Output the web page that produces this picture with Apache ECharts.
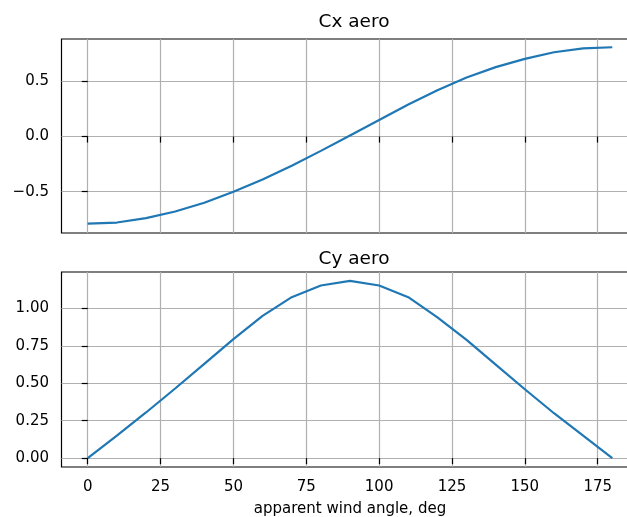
<!DOCTYPE html>
<html>
<head>
<meta charset="utf-8">
<script src="https://cdn.jsdelivr.net/npm/echarts@6/dist/echarts.min.js"></script>
<style>
    html, body { margin: 0; padding: 0; background: #fff; }
    #chart { width: 627px; height: 517px; }
</style>
</head>
<body>
<div id="chart"></div>
<script>
// apparent wind angle, deg
const angles = [0, 10, 20, 30, 40, 50, 60, 70, 80, 90, 100, 110, 120, 130, 140, 150, 160, 170, 180];
// Cx aero
const cxValues = [-0.79, -0.78, -0.74, -0.68, -0.60, -0.50, -0.39, -0.265, -0.13, 0.01, 0.15, 0.29, 0.42, 0.535, 0.63, 0.705, 0.765, 0.80, 0.81];
// Cy aero
const cyValues = [0, 0.15, 0.305, 0.465, 0.63, 0.795, 0.95, 1.075, 1.153, 1.184, 1.153, 1.075, 0.94, 0.79, 0.625, 0.46, 0.30, 0.15, 0];

const xTicks = [0, 25, 50, 75, 100, 125, 150, 175];
const cxTicks = [-0.5, 0, 0.5];
const cyTicks = [0, 0.25, 0.5, 0.75, 1.0];

const font = "DejaVu Sans";
const gridColor = "#b0b0b0";
const lineColor = "#1f77b4";

function pairs(xs, ys) {
    return xs.map(function (x, i) { return [x, ys[i]]; });
}

function minus(s) {
    return String(s).replace("-", "\u2212");
}

function xAxisOpt(gridIndex, showLabels) {
    return {
        type: "value",
        gridIndex: gridIndex,
        min: -9,
        max: 189,
        axisLine: { show: false },
        axisTick: {
            show: true, inside: false, length: 6,
            customValues: xTicks,
            lineStyle: { color: "#000", width: 1.2 }
        },
        axisLabel: {
            show: showLabels,
            customValues: xTicks,
            margin: 13,
            color: "#000",
            fontFamily: font,
            fontSize: 15
        },
        splitLine: { show: true, lineStyle: { color: gridColor, width: 1.2 } }
    };
}

function yAxisOpt(gridIndex, min, max, ticks, decimals) {
    return {
        type: "value",
        gridIndex: gridIndex,
        min: min,
        max: max,
        axisLine: { show: false },
        axisTick: {
            show: true, inside: false, length: 6,
            customValues: ticks,
            lineStyle: { color: "#000", width: 1.2 }
        },
        axisLabel: {
            customValues: ticks,
            margin: 12.5,
            color: "#000",
            fontFamily: font,
            fontSize: 15,
            formatter: function (v) { return minus(Number(v).toFixed(decimals)); }
        },
        splitLine: { show: true, lineStyle: { color: gridColor, width: 1.2 } }
    };
}

const myChart = echarts.init(document.getElementById("chart"), null, { renderer: "canvas" });

// the right edge of the plot frame lies outside the picture, as in the original crop
const option = {
    backgroundColor: "#fff",
    animation: false,
    title: [
        {
            text: "Cx aero", left: 349, top: 8, textAlign: "center",
            textStyle: { fontFamily: font, fontSize: 18.5, fontWeight: "normal", color: "#000" }
        },
        {
            text: "Cy aero", left: 349, top: 245, textAlign: "center",
            textStyle: { fontFamily: font, fontSize: 18.5, fontWeight: "normal", color: "#000" }
        }
    ],
    grid: [
        { left: 61.5, width: 577, top: 39, height: 194, outerBoundsMode: "none", containLabel: false,
          show: true, borderColor: "#000", borderWidth: 1.2, backgroundColor: "transparent" },
        { left: 61.5, width: 577, top: 272, height: 195, outerBoundsMode: "none", containLabel: false,
          show: true, borderColor: "#000", borderWidth: 1.2, backgroundColor: "transparent" }
    ],
    xAxis: [
        xAxisOpt(0, false),
        Object.assign(xAxisOpt(1, true), {
            name: "apparent wind angle, deg",
            nameLocation: "middle",
            nameGap: 35,
            nameTextStyle: { fontFamily: font, fontSize: 15, color: "#000" }
        })
    ],
    yAxis: [
        yAxisOpt(0, -0.875, 0.885, cxTicks, 1),
        yAxisOpt(1, -0.059, 1.243, cyTicks, 2)
    ],
    series: [
        {
            type: "line", xAxisIndex: 0, yAxisIndex: 0,
            data: pairs(angles, cxValues),
            showSymbol: false,
            lineStyle: { color: lineColor, width: 2.2 }
        },
        {
            type: "line", xAxisIndex: 1, yAxisIndex: 1,
            data: pairs(angles, cyValues),
            showSymbol: false,
            lineStyle: { color: lineColor, width: 2.2 }
        }
    ]
};

myChart.setOption(option);
</script>
</body>
</html>
